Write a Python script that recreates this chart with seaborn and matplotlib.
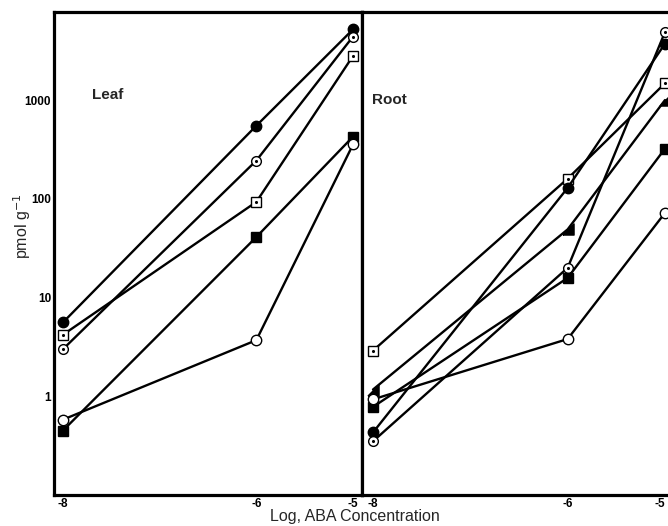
import numpy as np
import pandas as pd
import matplotlib
matplotlib.use("Agg")
import matplotlib.pyplot as plt
import seaborn as sns

sns.set_theme(style="white")
plt.rcParams['font.family'] = ['Liberation Sans', 'DejaVu Sans']

log_conc = [-8, -6, -5]

# Leaf series (pmol g-1)
leaf_filled_circle = [5.6, 550, 5200]
leaf_dot_circle = [3.0, 244, 4400]
leaf_dot_square = [4.2, 93, 2800]
leaf_filled_square = [0.45, 41, 426]
leaf_open_circle = [0.58, 3.7, 355]

# Root series (pmol g-1)
root_dot_square = [2.9, 160, 1480]
root_filled_circle = [0.43, 129, 3730]
root_triangle = [1.17, 49, 1000]
root_dot_circle = [0.35, 20, 4880]
root_filled_square = [0.78, 15.8, 322]
root_open_circle = [0.93, 3.8, 72]

y_ticks = [1, 10, 100, 1000]
y_ticklabels = ["1", "10", "100", "1000"]
x_ticklabels = ["-8", "-6", "-5"]

tri = [(-1, -1), (1, -1), (1, 1), (-1, -1)]
styles = {
    "filled_circle": dict(marker="o", face="black", size=7.5, dot=False),
    "open_circle": dict(marker="o", face="white", size=7.5, dot=False),
    "dot_circle": dict(marker="o", face="white", size=7, dot=True),
    "dot_square": dict(marker="s", face="white", size=7, dot=True),
    "filled_square": dict(marker="s", face="black", size=7.5, dot=False),
    "triangle": dict(marker=tri, face="black", size=8, dot=False),
}

leaf = {
    "filled_circle": leaf_filled_circle,
    "dot_circle": leaf_dot_circle,
    "dot_square": leaf_dot_square,
    "filled_square": leaf_filled_square,
    "open_circle": leaf_open_circle,
}
root = {
    "dot_square": root_dot_square,
    "filled_circle": root_filled_circle,
    "triangle": root_triangle,
    "dot_circle": root_dot_circle,
    "filled_square": root_filled_square,
    "open_circle": root_open_circle,
}

fig = plt.figure(figsize=(6.68, 5.26), dpi=100)
ax1 = fig.add_axes([54/668, 1-495/526, 308/668, (495-12)/526])
ax2 = fig.add_axes([362/668, 1-495/526, 306/668, (495-12)/526])


def draw(ax, series):
    for name, vals in series.items():
        st = styles[name]
        df = pd.DataFrame({"x": log_conc, "y": vals})
        sns.lineplot(data=df, x="x", y="y", ax=ax, color="black", lw=1.7,
                     marker=st["marker"], markersize=st["size"],
                     markerfacecolor=st["face"], markeredgecolor="black",
                     markeredgewidth=1.0, clip_on=False, zorder=3)
        if st["dot"]:
            sns.scatterplot(data=df, x="x", y="y", ax=ax, color="black",
                            marker="o", s=5, linewidth=0, clip_on=False, zorder=4)


draw(ax1, leaf)
draw(ax2, root)

for ax, xl in [(ax1, (-8.093, -4.907)), (ax2, (-8.113, -4.969))]:
    ax.set_yscale("log")
    ax.set_ylim(0.1, 7800)
    ax.set_xlim(*xl)
    ax.set_xticks(log_conc)
    ax.set_xticklabels(x_ticklabels)
    ax.set_yticks(y_ticks)
    ax.minorticks_off()
    ax.set_xlabel("")
    ax.set_ylabel("")
    ax.tick_params(direction="in", length=5, width=2, colors="black",
                   labelsize=8.5, pad=2)
    for s in ax.spines.values():
        s.set_linewidth(2.3)
        s.set_color("black")
    ax.set_facecolor("white")

ax1.set_yticklabels(y_ticklabels)
for lab in ax1.get_yticklabels() + ax1.get_xticklabels() + ax2.get_xticklabels():
    lab.set_fontweight("bold")
ax2.get_xticklabels()[-1].set_horizontalalignment("right")
ax2.set_yticklabels([])
ax2.spines["right"].set_visible(False)

fig.text(92/668, 1-95/526, "Leaf", fontsize=11, fontweight="bold",
         va="center", ha="left")
fig.text(372/668, 1-100/526, "Root", fontsize=11, fontweight="bold",
         va="center", ha="left")

fig.text(355/668, 1-516/526, "Log, ABA Concentration", ha="center", va="center",
         fontsize=11.5)
fig.text(22/668, 1-226/526, "pmol g$^{-1}$", ha="center", va="center",
         rotation=90, fontsize=11.5)

fig.savefig("out.png", dpi=100, facecolor="white")
